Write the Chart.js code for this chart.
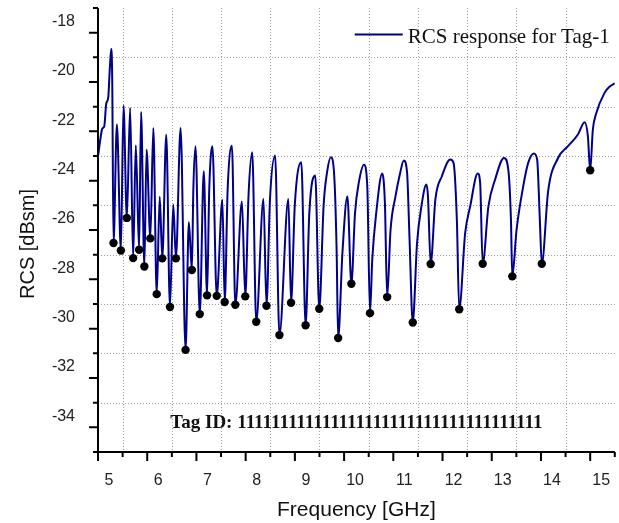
<!DOCTYPE html>
<html><head><meta charset="utf-8">
<script src="https://cdn.jsdelivr.net/npm/chart.js@4.4.1/dist/chart.umd.min.js"></script>
<style>html,body{margin:0;padding:0;background:#fff}canvas{display:block}</style>
</head><body>
<canvas id="c" width="619" height="523"></canvas>
<script>
// ---- data ----
const freqGHz = [5.006,5.047,5.087,5.127,5.168,5.208,5.239,5.269,5.289,5.315,
 5.384,5.465,5.518,5.586,5.653,5.714,5.768,5.835,5.875,5.942,
 5.987,6.063,6.124,6.193,6.254,6.306,6.387,6.462,6.529,6.583,
 6.678,6.779,6.846,6.907,6.937,6.981,7.068,7.149,7.216,7.260,
 7.325,7.412,7.527,7.574,7.634,7.721,7.790,7.924,7.992,8.059,
 8.134,8.215,8.362,8.423,8.494,8.599,8.686,8.868,8.922,8.999,
 9.131,9.218,9.292,9.414,9.495,9.585,9.656,9.731,9.798,9.848,
 9.879,9.966,10.067,10.148,10.222,10.303,10.404,10.471,10.526,10.572,
 10.653,10.774,10.829,10.875,10.944,11.045,11.132,11.213,11.280,11.328,
 11.395,11.482,11.571,11.672,11.704,11.759,11.854,11.987,12.157,12.224,
 12.291,12.339,12.460,12.562,12.715,12.764,12.816,12.932,13.067,13.249,
 13.336,13.390,13.417,13.504,13.639,13.740,13.856,13.922,13.977,14.017,
 14.145,14.347,14.549,14.751,14.887,14.953,15.000,15.054,15.115,15.291,
 15.398,15.500];
const rcsDbsm = [-22.94,-22.33,-21.89,-21.80,-20.87,-20.63,-19.49,-18.65,-19.90,-26.53,
 -21.72,-26.83,-20.95,-25.51,-21.05,-27.14,-22.56,-26.80,-21.22,-27.48,
 -22.74,-26.34,-21.86,-28.60,-24.65,-27.15,-22.14,-29.12,-24.97,-27.15,
 -21.86,-30.86,-25.69,-27.62,-24.36,-22.60,-29.41,-23.62,-28.65,-24.36,
 -22.60,-28.67,-24.77,-28.92,-24.36,-22.58,-29.03,-24.84,-28.69,-24.56,
 -22.85,-29.72,-24.74,-29.07,-24.77,-22.98,-30.26,-24.74,-28.95,-24.97,
 -23.25,-29.86,-25.38,-23.79,-29.19,-24.97,-23.63,-23.05,-23.75,-26.80,
 -30.38,-26.93,-24.63,-28.18,-25.31,-24.03,-23.35,-24.23,-29.37,-27.20,
 -25.31,-23.71,-24.90,-28.72,-25.99,-24.63,-23.75,-23.18,-23.68,-26.26,
 -29.75,-26.53,-25.04,-24.16,-24.63,-27.38,-24.77,-23.82,-23.14,-23.28,
 -25.58,-29.21,-26.12,-25.04,-23.71,-24.09,-27.37,-25.04,-23.96,-23.08,
 -23.55,-25.58,-27.88,-25.99,-24.23,-23.28,-22.90,-23.14,-25.58,-27.37,
 -24.43,-23.08,-22.60,-22.13,-21.63,-22.20,-23.58,-21.93,-21.32,-20.44,
 -20.18,-20.06];
const dipFreqGHz = [5.315,5.465,5.586,5.714,5.835,5.942,6.063,6.193,6.306,6.462,
 6.583,6.779,6.907,7.068,7.216,7.412,7.574,7.790,7.992,8.215,
 8.423,8.686,8.922,9.218,9.495,9.879,10.148,10.526,10.875,11.395,
 11.759,12.339,12.816,13.417,14.017,15.000];
const dipRcsDbsm = [-26.53,-26.83,-25.51,-27.14,-26.80,-27.48,-26.34,-28.60,-27.15,-29.12,
 -27.15,-30.86,-27.62,-29.41,-28.65,-28.67,-28.92,-29.03,-28.69,-29.72,
 -29.07,-30.26,-28.95,-29.86,-29.19,-30.38,-28.18,-29.37,-28.72,-29.75,
 -27.38,-29.21,-27.37,-27.88,-27.37,-23.58];
const xTickLabels = ['5','6','7','8','9','10','11','12','13','14','15'];
const yTickLabels = ['-18','-20','-22','-24','-26','-28','-30','-32','-34'];
const seriesLabel = 'RCS response for Tag-1';
const tagIdText = 'Tag ID: 111111111111111111111111111111111111';
const xTitle = 'Frequency [GHz]';
const yTitle = 'RCS [dBsm]';

const SANS = '"Liberation Sans", Arial, Helvetica, sans-serif';
const SERIF = '"Liberation Serif", "Times New Roman", Times, serif';
const LINE_COLOR = '#00008B';

const decor = {
  id: 'decor',
  beforeDatasetsDraw(chart) {
    const {ctx, chartArea: a, scales: {x, y}} = chart;
    ctx.save();
    ctx.strokeStyle = '#a0a0a0';
    ctx.lineWidth = 1;
    ctx.setLineDash([1, 2]);
    ctx.beginPath();
    for (let v = -33; v <= -19; v += 2) {
      const py = Math.round(y.getPixelForValue(v)) + 0.5;
      ctx.moveTo(a.left, py); ctx.lineTo(a.right, py);
    }
    for (let f = 5.5; f <= 14.5; f += 1) {
      const px = Math.round(x.getPixelForValue(f)) + 0.5;
      ctx.moveTo(px, a.top); ctx.lineTo(px, a.bottom);
    }
    ctx.stroke();
    ctx.restore();
  },
  afterDatasetsDraw(chart) {
    const {ctx, chartArea: a, scales: {x, y}} = chart;
    ctx.save();
    // axes
    ctx.strokeStyle = '#000';
    ctx.lineWidth = 2;
    ctx.beginPath();
    ctx.moveTo(a.left, a.top); ctx.lineTo(a.left, a.bottom + 1);
    ctx.moveTo(a.left - 1, a.bottom); ctx.lineTo(a.right, a.bottom);
    // y ticks
    for (let v = -35; v <= -17; v += 1) {
      const py = y.getPixelForValue(v);
      const len = (v % 2 === 0) ? 9 : 5;
      ctx.moveTo(a.left, py); ctx.lineTo(a.left - len, py);
    }
    // x ticks
    for (let f = 5; f <= 15.5001; f += 0.5) {
      const px = x.getPixelForValue(f);
      const len = (Math.abs(f - Math.round(f)) < 1e-6) ? 9 : 5;
      ctx.moveTo(px, a.bottom); ctx.lineTo(px, a.bottom + len);
    }
    ctx.stroke();

    // legend
    ctx.font = '21px ' + SERIF;
    const tw = ctx.measureText(seriesLabel).width;
    const tx = a.right - 5 - tw;
    ctx.strokeStyle = LINE_COLOR;
    ctx.lineWidth = 2;
    ctx.beginPath();
    ctx.moveTo(tx - 53, 34.5); ctx.lineTo(tx - 5, 34.5);
    ctx.stroke();
    ctx.fillStyle = '#111';
    ctx.textAlign = 'left';
    ctx.textBaseline = 'alphabetic';
    ctx.fillText(seriesLabel, tx, 42.5);

    // tag id
    ctx.font = 'bold 19px ' + SERIF;
    ctx.textAlign = 'center';
    ctx.fillText(tagIdText, (a.left + a.right) / 2, 428);

    // y title
    ctx.font = '20px ' + SANS;
    ctx.translate(34, 244);
    ctx.rotate(-Math.PI / 2);
    ctx.textAlign = 'center';
    ctx.textBaseline = 'alphabetic';
    ctx.fillText(yTitle, 0, 0);
    ctx.restore();
  }
};

new Chart(document.getElementById('c'), {
  type: 'line',
  data: {
    datasets: [
      {
        label: 'Resonance dips',
        data: dipFreqGHz.map((f, i) => ({x: f, y: dipRcsDbsm[i]})),
        showLine: false,
        pointRadius: 4.2,
        pointHoverRadius: 4.2,
        pointBackgroundColor: '#000',
        pointBorderWidth: 0,
        order: 0
      },
      {
        label: seriesLabel,
        data: freqGHz.map((f, i) => ({x: f, y: rcsDbsm[i]})),
        borderColor: LINE_COLOR,
        borderWidth: 2,
        pointRadius: 0,
        fill: false,
        cubicInterpolationMode: 'monotone',
        order: 1
      }
    ]
  },
  options: {
    responsive: false,
    animation: false,
    devicePixelRatio: 1,
    layout: {padding: {left: 0, right: 2, top: 8, bottom: 0}},
    plugins: {legend: {display: false}, tooltip: {enabled: false}},
    scales: {
      x: {
        type: 'linear', min: 5, max: 15.5,
        grid: {display: false, drawTicks: false},
        border: {display: false},
        ticks: {
          stepSize: 0.5, autoSkip: false, maxRotation: 0, minRotation: 0,
          labelOffset: 11, padding: 18.5, color: '#222',
          font: {family: SANS, size: 16},
          callback: (v) => {
            const r = Math.round(v);
            return Math.abs(v - r) < 1e-6 ? xTickLabels[r - 5] : null;
          }
        },
        title: {display: true, text: xTitle, color: '#111',
          font: {family: SANS, size: 21}, padding: {top: 0, bottom: 0}},
        afterFit: (s) => { s.height = 71; s.paddingLeft = 0; s.paddingRight = 0; }
      },
      y: {
        type: 'linear', min: -35, max: -17,
        grid: {display: false, drawTicks: false},
        border: {display: false},
        ticks: {
          stepSize: 1, autoSkip: false,
          labelOffset: -11, padding: 23, color: '#222',
          font: {family: SANS, size: 16},
          callback: (v) => {
            const r = Math.round(v);
            return (r % 2 === 0 && r <= -18 && r >= -34) ? yTickLabels[(-18 - r) / 2] : null;
          }
        },
        afterFit: (s) => { s.width = 98; s.paddingTop = 0; s.paddingBottom = 0; }
      }
    }
  },
  plugins: [decor]
});
</script>
</body></html>
